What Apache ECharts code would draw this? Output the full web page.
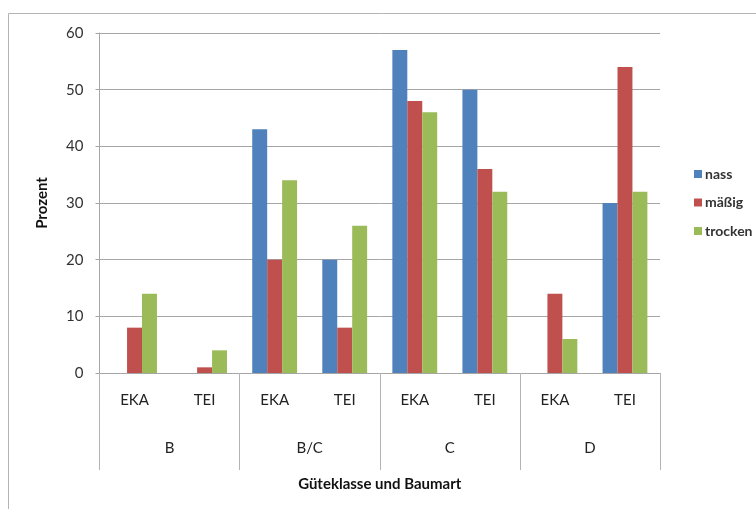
<!DOCTYPE html>
<html><head><meta charset="utf-8">
<script src="https://cdn.jsdelivr.net/npm/echarts@6/dist/echarts.min.js"></script>
<style>html,body{margin:0;padding:0;background:#fff}#c{width:756px;height:509px}</style>
</head><body><div id="c"></div>
<script>
const subCategories = ['EKA','TEI','EKA','TEI','EKA','TEI','EKA','TEI'];
const groups = ['B','B/C','C','D'];
const nass =    [0, 0, 43, 20, 57, 50, 0, 30];
const maessig = [8, 1, 20, 8, 48, 36, 14, 54];
const trocken = [14, 4, 34, 26, 46, 32, 6, 32];
const yTicks = [0, 10, 20, 30, 40, 50, 60];

const FONT = 'Lato, "Open Sans", sans-serif';
const chart = echarts.init(document.getElementById('c'), null, {renderer:'canvas'});
const mk = (name, data, color) => ({
  name, type:'bar', data, xAxisIndex:0, yAxisIndex:0,
  barGap:'0%', barCategoryGap:'36%',
  itemStyle:{color}, emphasis:{disabled:true}
});
chart.setOption({
  animation:false,
  textStyle:{fontFamily:FONT},
  graphic:[{type:'rect', shape:{x:8.5,y:13.5,width:900,height:700},
    style:{fill:'none', stroke:'#b4b4b4', lineWidth:1}, silent:true}],
  grid:{left:99.5, right:96, top:33, bottom:136, containLabel:false},
  legend:{orient:'vertical', left:689, top:162, itemWidth:8, itemHeight:8, itemGap:14.5,
    icon:'rect', textStyle:{fontFamily:FONT, fontSize:14, fontWeight:'bold', color:'#333', padding:[0,0,0,-2]},
    data:['nass','mäßig','trocken']},
  xAxis:[
    {type:'category', data:subCategories, position:'bottom',
     axisLine:{show:true, lineStyle:{color:'#a6a6a6'}},
     axisTick:{show:false},
     axisLabel:{margin:20, fontSize:15, color:'#222', fontFamily:FONT}},
    {type:'category', data:groups, position:'bottom', offset:0,
     axisLine:{show:false},
     axisTick:{show:true, length:97, lineStyle:{color:'#b4b4b4'}},
     axisLabel:{margin:68, fontSize:15, color:'#222', fontFamily:FONT},
     name:'Güteklasse und Baumart', nameLocation:'middle', nameGap:104,
     nameTextStyle:{fontSize:15, fontWeight:'bold', color:'#111', fontFamily:FONT}}
  ],
  yAxis:{type:'value', min:yTicks[0], max:yTicks[yTicks.length-1], interval:10,
    axisLine:{show:true, lineStyle:{color:'#a6a6a6'}},
    axisTick:{show:true, length:4, lineStyle:{color:'#a6a6a6'}},
    splitLine:{show:true, lineStyle:{color:'#a6a6a6'}},
    axisLabel:{margin:16, fontSize:15, color:'#333', fontFamily:FONT},
    name:'Prozent', nameLocation:'middle', nameGap:50, nameRotate:90,
    nameTextStyle:{fontSize:15, fontWeight:'bold', color:'#111', fontFamily:FONT}},
  series:[
    mk('nass', nass, '#4F81BD'),
    mk('mäßig', maessig, '#C0504D'),
    mk('trocken', trocken, '#9BBB59')
  ]
});
</script></body></html>
